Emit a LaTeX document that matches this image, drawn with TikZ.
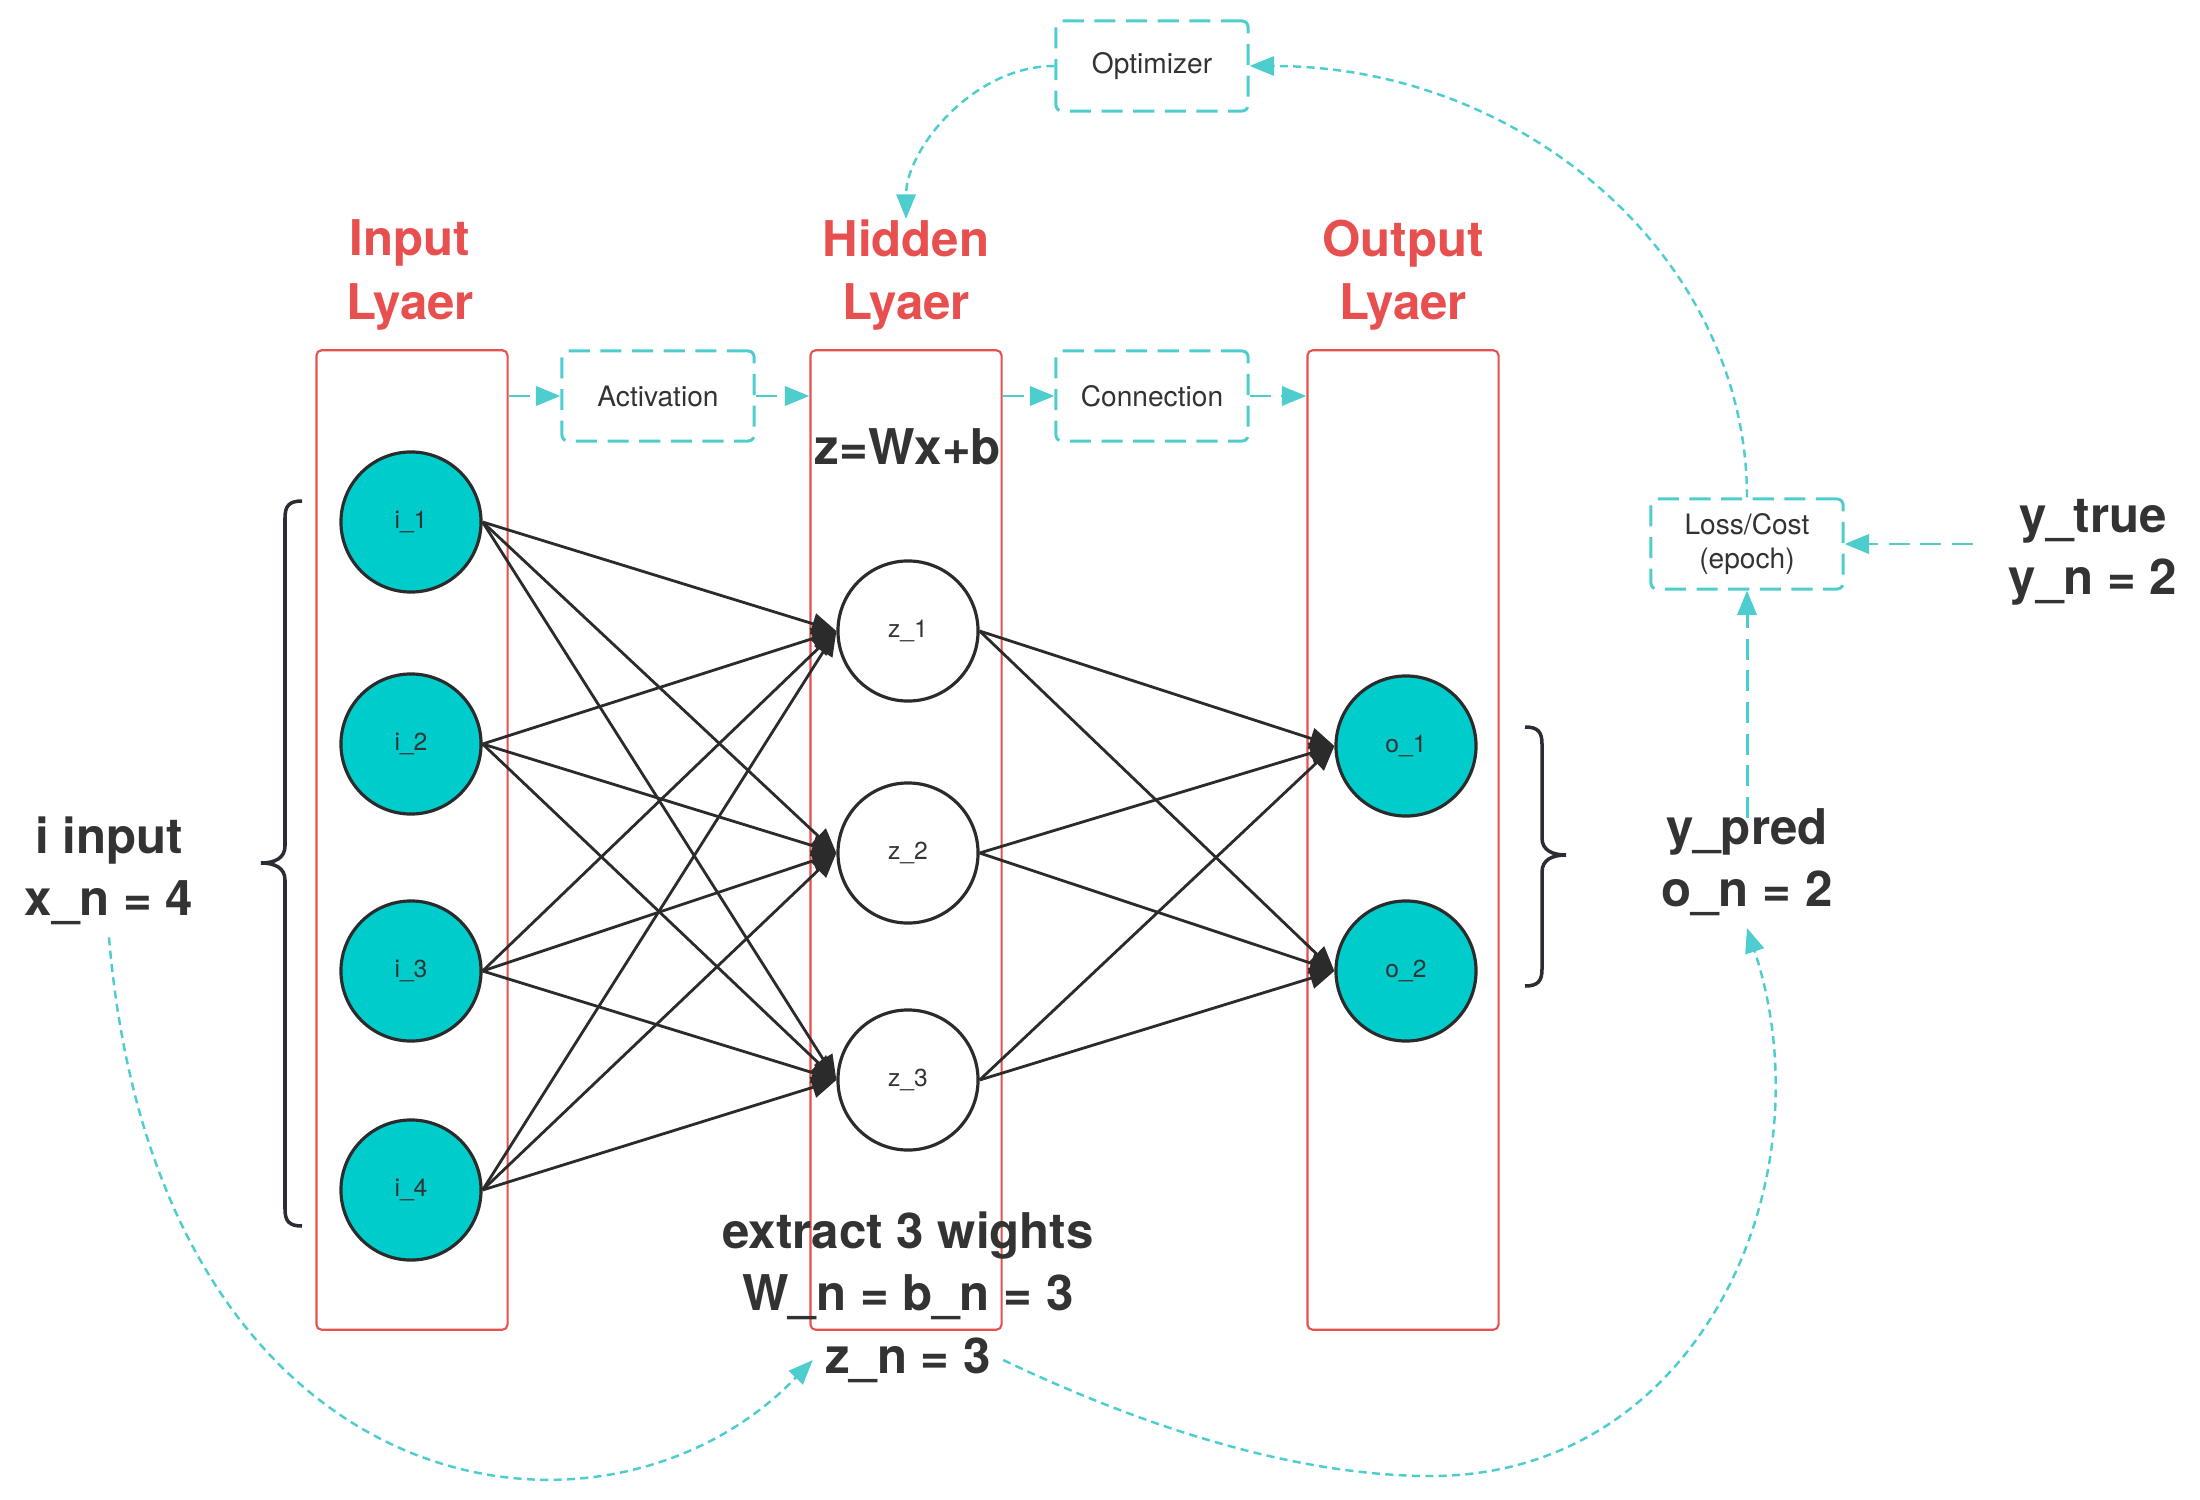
\documentclass[tikz,border=0pt]{standalone}
\usepackage{fontspec}
\setmainfont{TeX Gyre Heros}
\usetikzlibrary{arrows.meta,calc}
\definecolor{redl}{HTML}{E8504F}
\definecolor{cyanf}{HTML}{00CCCC}
\definecolor{cyand}{HTML}{4ECDCE}
\definecolor{darkt}{HTML}{333333}
\definecolor{darkl}{HTML}{2B2B2B}
\definecolor{bracec}{HTML}{2A2D34}
\begin{document}
\begin{tikzpicture}[x=0.01cm,y=-0.01cm,
  layerbox/.style={draw=redl, line width=0.6pt, rounded corners=1.5pt, minimum width=1.91cm, minimum height=9.79cm, inner sep=0pt},
  neuron/.style={circle, draw=darkl, line width=0.9pt, minimum size=1.4cm, inner sep=0pt, font=\fontsize{7}{8}\selectfont, text=darkt},
  inneuron/.style={neuron, fill=cyanf},
  hidneuron/.style={neuron, fill=white},
  layertitle/.style={font=\fontsize{14}{18}\selectfont\bfseries, text=redl, align=center, inner sep=0pt},
  biglabel/.style={font=\fontsize{14}{17.6}\selectfont\bfseries, text=darkt, align=center},
  opbox/.style={draw=cyand, line width=0.85pt, dash pattern=on 6pt off 3pt, rounded corners=1.7pt, minimum width=1.92cm, minimum height=0.9cm, font=\fontsize{8}{9.6}\selectfont, text=darkt, align=center},
  flow/.style={draw=cyand, line width=0.85pt, dash pattern=on 6pt off 3pt, -{Triangle[length=7pt,width=5.5pt]}},
  loopline/.style={draw=cyand, line width=0.7pt, dash pattern=on 2.3pt off 1.5pt, -{Triangle[length=7pt,width=5.5pt]}},
  wire/.style={draw=darkl, line width=0.8pt, -{Triangle[length=7pt,width=6pt]}},
  bracepath/.style={draw=bracec, line width=1pt}
]
\useasboundingbox (0,0) rectangle (2200,1500);

% layer boxes
\node[layerbox] (inbox) at (412,840) {};
\node[layerbox] (hidbox) at (906,840) {};
\node[layerbox] (outbox) at (1403,840) {};

% titles
\node[layertitle] (intitle) at (410,275) {Input\\Lyaer};
\node[layertitle] (hidtitle) at (906,275) {Hidden\\Lyaer};
\node[layertitle] (outtitle) at (1403,275) {Output\\Lyaer};

% neurons
\node[inneuron] (i1) at (411,522) {i\_1};
\node[inneuron] (i2) at (411,744) {i\_2};
\node[inneuron] (i3) at (411,971) {i\_3};
\node[inneuron] (i4) at (411,1190) {i\_4};
\node[hidneuron] (z1) at (908,631) {z\_1};
\node[hidneuron] (z2) at (908,853) {z\_2};
\node[hidneuron] (z3) at (908,1080) {z\_3};
\node[inneuron] (o1) at (1406,746) {o\_1};
\node[inneuron] (o2) at (1406,971) {o\_2};

% operation boxes
\node[opbox] (act) at (658,396) {Activation};
\node[opbox] (conn) at (1152,396) {Connection};
\node[opbox] (opt) at (1152,66) {Optimizer};
\node[opbox] (loss) at (1747,544) {Loss/Cost\\(epoch)};

% labels
\node[biglabel] (zeq) at (908,447) {z=Wx+b};
\node[biglabel] (xn) at (109,871) {i input\\x\_n = 4};
\node[biglabel] (ypred) at (1747,862) {y\_pred\\o\_n = 2};
\node[biglabel, inner xsep=10pt] (ytrue) at (2093,552) {y\_true\\y\_n = 2};
\node[biglabel] (wt) at (908,1266) {extract 3 wights\\W\_n = b\_n = 3};
\node[biglabel] (zn) at (908,1360) {z\_n = 3};

% wires
\foreach \i in {1,...,4}
  \foreach \j in {1,2,3}
    \draw[wire] (i\i.east) -- (z\j.west);
\foreach \j in {1,2,3}
  \foreach \k in {1,2}
    \draw[wire] (z\j.east) -- (o\k.west);

% braces
\draw[bracepath] (302,501) .. controls (289,501) and (285,506) .. (285,518) -- (285,846)
  .. controls (285,858) and (275,863) .. (261,863)
  .. controls (275,863) and (285,868) .. (285,880) -- (285,1209)
  .. controls (285,1221) and (289,1226) .. (302,1226);
\draw[bracepath] (1525,727) .. controls (1538,727) and (1542,732) .. (1542,744) -- (1542,838)
  .. controls (1542,850) and (1552,855) .. (1566,855)
  .. controls (1552,855) and (1542,860) .. (1542,872) -- (1542,969)
  .. controls (1542,981) and (1538,986) .. (1525,986);

% flow arrows
\draw[flow] (act.west -| inbox.east) -- (act.west);
\draw[flow] (act.east) -- (act.east -| hidbox.west);
\draw[flow] (conn.west -| hidbox.east) -- (conn.west);
\draw[flow] (conn.east) -- (conn.east -| outbox.west);
\draw[flow] (ytrue.west |- loss.east) -- (loss.east);
\draw[flow, shorten <=-0.22cm] (ypred.north) -- (loss.south);

% loops
\draw[loopline] (loss.north) .. controls +(0,-239) and +(275,0) .. (opt.east);
\draw[loopline] (opt.west) .. controls +(-82,0) and +(0,-69) .. (hidtitle.north);
\draw[loopline] (xn.south) .. controls +(48,571) and +(-211,219) .. (zn.west);
\coordinate (zbot) at (1431,1476);
\draw[loopline] (zn.east) .. controls (1150,1430) and (1300,1476) .. (zbot)
  .. controls (1700,1476) and (1830,1180) .. (ypred.south);
\end{tikzpicture}
\end{document}
